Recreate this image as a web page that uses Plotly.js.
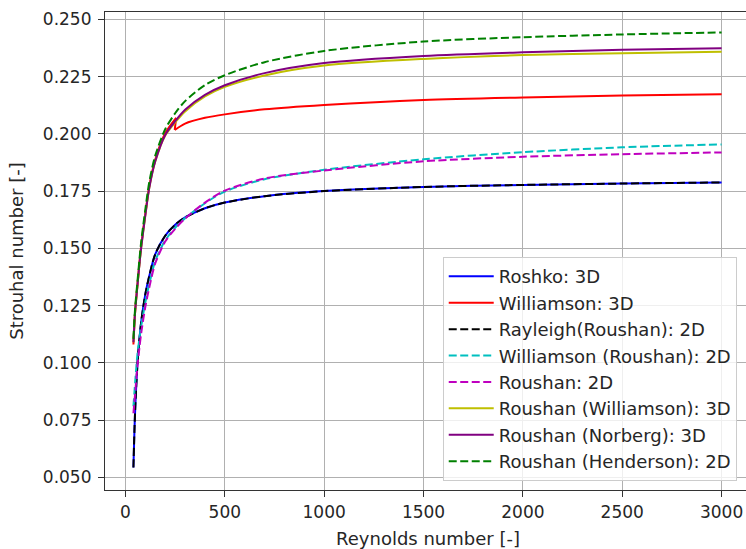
<!DOCTYPE html>
<html>
<head>
<meta charset="utf-8">
<script src="https://cdn.plot.ly/plotly-3.0.1.min.js"></script>
<style>
html, body { margin:0; padding:0; overflow:hidden; background:#fff; }
#chart { width:752px; height:549px; }
</style>
</head>
<body>
<div id="chart"></div>
<script>
const re = [40, 45, 50, 60, 70, 80, 100, 120, 150, 200, 250, 300, 400, 500, 700, 1000, 1500, 2000, 2500, 3000];

// Williamson 3D: 2D-like branch up to Re ~ 255, then a drop onto the 3D branch
const reWilliamsonLow  = [40, 45, 50, 60, 70, 80, 100, 120, 150, 200, 255];
const williamsonLow    = [0.1080, 0.1170, 0.1240, 0.1338, 0.1433, 0.1518, 0.1652, 0.1772, 0.1888, 0.2003, 0.2070];
const reWilliamsonHigh = [248, 300, 400, 500, 700, 1000, 1500, 2000, 2500, 3000];
const williamsonHigh   = [0.2017, 0.2045, 0.2070, 0.2085, 0.2107, 0.2126, 0.2148, 0.2159, 0.2167, 0.2173];

const roshko3D      = [0.0543, 0.0700, 0.0820, 0.0990, 0.1100, 0.1185, 0.1300, 0.1380, 0.1475, 0.1555, 0.1603, 0.1635, 0.1675, 0.1700, 0.1728, 0.1750, 0.1768, 0.1777, 0.1783, 0.1788];
const rayleigh2D    = [0.0543, 0.0700, 0.0820, 0.0990, 0.1100, 0.1185, 0.1300, 0.1380, 0.1475, 0.1555, 0.1603, 0.1635, 0.1675, 0.1700, 0.1728, 0.1750, 0.1768, 0.1777, 0.1783, 0.1788];
const williamsonR2D = [0.0810, 0.0870, 0.0930, 0.1035, 0.1105, 0.1165, 0.1265, 0.1345, 0.1445, 0.1535, 0.1590, 0.1632, 0.1697, 0.1748, 0.1802, 0.1843, 0.1889, 0.1920, 0.1941, 0.1954];
const roushan2D     = [0.0780, 0.0830, 0.0880, 0.0985, 0.1065, 0.1135, 0.1245, 0.1330, 0.1435, 0.1530, 0.1585, 0.1630, 0.1700, 0.1752, 0.1805, 0.1840, 0.1880, 0.1900, 0.1911, 0.1919];
const roushanW3D    = [0.1090, 0.1175, 0.1240, 0.1335, 0.1428, 0.1510, 0.1645, 0.1765, 0.1880, 0.1993, 0.2050, 0.2098, 0.2163, 0.2205, 0.2255, 0.2298, 0.2327, 0.2344, 0.2352, 0.2358];
const roushanN3D    = [0.1090, 0.1175, 0.1240, 0.1335, 0.1428, 0.1510, 0.1645, 0.1765, 0.1880, 0.1995, 0.2055, 0.2105, 0.2170, 0.2212, 0.2265, 0.2309, 0.2340, 0.2356, 0.2367, 0.2374];
const roushanH2D    = [0.1105, 0.1190, 0.1255, 0.1352, 0.1448, 0.1535, 0.1670, 0.1790, 0.1905, 0.2020, 0.2090, 0.2143, 0.2213, 0.2256, 0.2313, 0.2362, 0.2403, 0.2422, 0.2434, 0.2443];

const names = ['Roshko: 3D', 'Williamson: 3D', 'Rayleigh(Roushan): 2D', 'Williamson (Roushan): 2D',
               'Roushan: 2D', 'Roushan (Williamson): 3D', 'Roushan (Norberg): 3D', 'Roushan (Henderson): 2D'];
const xTicks = [0, 500, 1000, 1500, 2000, 2500, 3000];
const yTicks = [0.050, 0.075, 0.100, 0.125, 0.150, 0.175, 0.200, 0.225, 0.250];

const DASH = '8px,3.5px';
function tr(x, y, name, color, dash, extra) {
  return Object.assign({
    x: x, y: y, name: name, type: 'scatter', mode: 'lines', legendgroup: name,
    line: {color: color, width: 2, dash: dash || 'solid', shape: 'spline', smoothing: 0.8}
  }, extra || {});
}

const wLast = reWilliamsonLow.length - 1;
const data = [
  tr(re, roshko3D, names[0], '#0000ff'),
  tr(reWilliamsonLow, williamsonLow, names[1], '#ff0000'),
  tr([reWilliamsonLow[wLast], reWilliamsonHigh[0]], [williamsonLow[wLast], williamsonHigh[0]], names[1], '#ff0000', null, {showlegend: false}),
  tr(reWilliamsonHigh, williamsonHigh, names[1], '#ff0000', null, {showlegend: false}),
  tr(re, rayleigh2D, names[2], '#000000', DASH),
  tr(re, williamsonR2D, names[3], '#00bfbf', DASH),
  tr(re, roushan2D, names[4], '#bf00bf', DASH),
  tr(re, roushanW3D, names[5], '#bfbf00'),
  tr(re, roushanN3D, names[6], '#800080'),
  tr(re, roushanH2D, names[7], '#008000', DASH)
];
data[2].line.shape = 'linear';

const font = {family: 'DejaVu Sans', size: 17, color: '#262626'};
const titleFont = {family: 'DejaVu Sans', size: 18, color: '#262626'};
const layout = {
  width: 752, height: 549,
  margin: {l: 105, r: 1, t: 12, b: 59},
  paper_bgcolor: '#ffffff', plot_bgcolor: '#ffffff',
  font: font,
  showlegend: true,
  legend: {
    x: 0.5228, y: 0.4871, xanchor: 'left', yanchor: 'top',
    bgcolor: 'rgba(255,255,255,0.8)', bordercolor: '#cccccc', borderwidth: 1,
    font: {family: 'DejaVu Sans', size: 18, color: '#262626'},
    itemwidth: 45, tracegroupgap: 0, traceorder: 'normal'
  },
  xaxis: {
    range: [-103, 3148], tickvals: xTicks, ticktext: xTicks.map(String),
    showgrid: true, gridcolor: '#b0b0b0', gridwidth: 1.1, zeroline: false,
    showline: true, linecolor: '#333333', linewidth: 1.1, mirror: true,
    ticks: 'outside', ticklen: 6, tickwidth: 1.1, tickcolor: '#333333',
    title: {text: 'Reynolds number [-]', font: titleFont, standoff: 11},
    automargin: false
  },
  yaxis: {
    range: [0.0445, 0.2532], tickvals: yTicks, ticktext: yTicks.map(v => v.toFixed(3)),
    showgrid: true, gridcolor: '#b0b0b0', gridwidth: 1.1, zeroline: false,
    showline: true, linecolor: '#333333', linewidth: 1.1, mirror: true,
    ticks: 'outside', ticklen: 6, tickwidth: 1.1, tickcolor: '#333333',
    ticklabelstandoff: 3,
    title: {text: 'Strouhal number [-]', font: titleFont, standoff: 14},
    automargin: false
  }
};

Plotly.newPlot('chart', data, layout, {displayModeBar: false, staticPlot: true});
</script>
</body>
</html>
